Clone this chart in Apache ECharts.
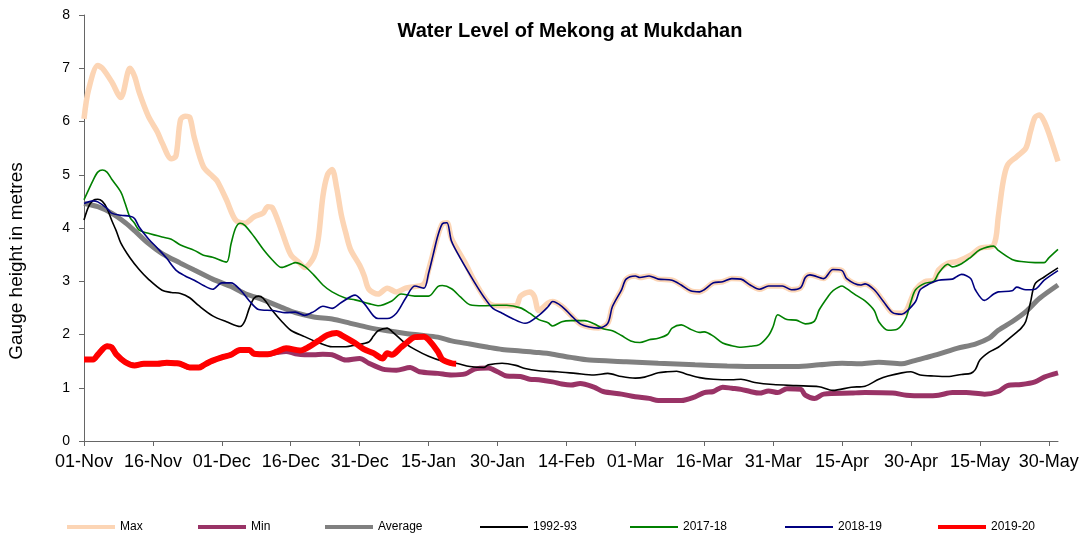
<!DOCTYPE html>
<html>
<head>
<meta charset="utf-8">
<title>Water Level of Mekong at Mukdahan</title>
<script src="https://cdn.jsdelivr.net/npm/echarts@6/dist/echarts.min.js"></script>
<style>
  html, body { margin: 0; padding: 0; background: #fff; }
  #chart { width: 1089px; height: 538px; }
</style>
</head>
<body>
<div id="chart"></div>
<script>
// x values are days counted from 01-Nov
const tickLabels = ['01-Nov', '16-Nov', '01-Dec', '16-Dec', '31-Dec', '15-Jan', '30-Jan', '14-Feb',
  '01-Mar', '16-Mar', '31-Mar', '15-Apr', '30-Apr', '15-May', '30-May'];
const seriesNames = ['Max', 'Min', 'Average', '1992-93', '2017-18', '2018-19', '2019-20'];

const maxLevel = [[0,6.05],[1,6.6],[3,7.05],[4,7.0],[6,6.75],[8,6.45],[10,7.0],[11,6.85],[12,6.55],[14,6.1],
  [16,5.8],[17,5.6],[19,5.3],[20,5.35],[21,6.03],[22,6.1],[23,6.08],[24,5.7],[26,5.15],[28,4.97],[29,4.88],
  [31,4.53],[33,4.15],[35,4.09],[37,4.21],[39,4.28],[40,4.4],[41,4.38],[43,3.95],[45,3.5],[47,3.34],[48,3.26],
  [50,3.45],[51,3.8],[52,4.6],[53,5.0],[54,5.1],[55,4.75],[56,4.25],[57,3.9],[58,3.6],[60,3.3],[61,3.1],
  [62,2.85],[64,2.76],[66,2.87],[68,2.8],[70,2.87],[72,2.9],[74,2.95],[75,3.21],[77,3.85],[78,4.08],[79,4.1],
  [80,3.8],[83,3.34],[85,3.0],[88,2.6],[90,2.54],[94,2.54],[95,2.72],[97,2.8],[98,2.72],[99,2.45],[101,2.59],
  [102,2.62],[104,2.53],[106,2.36],[108,2.2],[110,2.14],[112,2.12],[114,2.21],[115,2.52],[117,2.84],[118,3.04],
  [120,3.1],[121,3.07],[123,3.1],[125,3.04],[128,3.02],[130,2.93],[132,2.82],[134,2.8],[135,2.84],[137,2.97],
  [139,2.99],[141,3.05],[143,3.04],[145,2.93],[147,2.85],[149,2.91],[152,2.91],[154,2.84],[156,2.88],[157,3.07],
  [158,3.12],[161,3.05],[163,3.22],[165,3.2],[166,3.05],[169,2.93],[170,2.95],[172,2.84],[174,2.62],[176,2.41],
  [178,2.4],[179,2.45],[180,2.65],[181,2.84],[183,2.99],[185,3.02],[186,3.21],[188,3.34],[190,3.37],[193,3.49],
  [195,3.62],[198,3.68],[199,4.21],[200,4.84],[201,5.18],[203,5.34],[205,5.5],[206,5.81],[207,6.08],[208,6.12],
  [209,6.0],[210,5.78],[212,5.25]];

const minLevel = [[0,1.53],[2,1.53],[3,1.62],[5,1.78],[6,1.76],[7,1.63],[9,1.48],[11,1.42],[13,1.45],[16,1.45],
  [18,1.47],[20,1.46],[21,1.45],[23,1.38],[25,1.38],[26,1.42],[27,1.47],[28,1.51],[30,1.57],[32,1.62],[34,1.71],
  [36,1.71],[37,1.64],[40,1.63],[42,1.66],[44,1.68],[46,1.64],[48,1.62],[50,1.62],[52,1.63],[54,1.62],[57,1.52],
  [60,1.55],[62,1.46],[65,1.35],[68,1.33],[71,1.38],[73,1.3],[77,1.27],[80,1.24],[83,1.26],[85,1.35],[88,1.37],
  [90,1.3],[92,1.22],[95,1.21],[97,1.16],[99,1.15],[102,1.11],[104,1.07],[106,1.05],[108,1.08],[111,1.01],
  [113,0.93],[117,0.88],[120,0.83],[123,0.8],[125,0.76],[130,0.76],[133,0.83],[135,0.91],[137,0.93],[139,1.01],
  [141,0.99],[143,0.97],[145,0.93],[147,0.9],[149,0.94],[151,0.91],[153,0.98],[156,0.97],[157,0.86],[159,0.8],
  [161,0.88],[167,0.9],[170,0.91],[176,0.9],[179,0.86],[183,0.85],[186,0.86],[189,0.91],[192,0.91],[196,0.88],
  [199,0.93],[201,1.04],[204,1.06],[207,1.11],[209,1.2],[212,1.28]];

const avgLevel = [[0,4.46],[3,4.4],[6,4.28],[9,4.1],[11,3.95],[14,3.71],[17,3.52],[21,3.34],[24,3.21],[28,3.04],
  [32,2.9],[35,2.77],[39,2.65],[43,2.51],[46,2.41],[50,2.33],[54,2.29],[58,2.21],[62,2.13],[66,2.07],[70,2.02],
  [73,1.99],[77,1.95],[80,1.88],[84,1.82],[88,1.76],[91,1.72],[95,1.69],[99,1.66],[102,1.63],[106,1.57],
  [110,1.52],[118,1.49],[125,1.46],[133,1.43],[140,1.41],[147,1.4],[155,1.4],[160,1.43],[165,1.46],[169,1.45],
  [173,1.48],[178,1.45],[180,1.49],[183,1.56],[186,1.63],[190,1.74],[194,1.82],[197,1.93],[199,2.08],[202,2.24],
  [205,2.43],[208,2.68],[212,2.93]];

const level1992 = [[0,4.15],[1,4.4],[2,4.52],[3,4.54],[4,4.5],[5,4.37],[6,4.15],[7,3.95],[8,3.72],[10,3.44],
  [12,3.22],[14,3.04],[17,2.83],[19,2.79],[21,2.77],[23,2.69],[25,2.54],[28,2.35],[31,2.24],[34,2.15],[35,2.25],
  [36,2.5],[37,2.68],[38,2.72],[39,2.68],[41,2.45],[43,2.25],[45,2.08],[48,1.96],[51,1.85],[54,1.77],[57,1.77],
  [59,1.8],[62,1.86],[63,1.97],[64,2.07],[66,2.12],[67,2.06],[70,1.83],[72,1.72],[75,1.59],[78,1.5],[81,1.46],
  [84,1.4],[87,1.38],[88,1.43],[91,1.46],[94,1.42],[96,1.36],[99,1.32],[103,1.3],[107,1.27],[111,1.24],
  [114,1.27],[117,1.21],[120,1.18],[122,1.2],[125,1.28],[127,1.3],[129,1.31],[131,1.26],[134,1.19],[137,1.16],
  [141,1.15],[143,1.16],[146,1.1],[150,1.06],[155,1.04],[160,1.02],[163,0.95],[167,1.01],[170,1.03],[173,1.16],
  [175,1.22],[178,1.28],[180,1.3],[182,1.24],[185,1.22],[188,1.21],[191,1.25],[193,1.27],[194,1.34],[195,1.52],
  [197,1.67],[199,1.76],[202,1.97],[204,2.12],[205,2.25],[206,2.6],[207,2.95],[209,3.08],[212,3.25]];

const level2017 = [[0,4.53],[2,4.9],[3,5.05],[4,5.09],[5,5.05],[6,4.92],[8,4.68],[9,4.45],[10,4.2],[11,4.09],
  [12,3.96],[14,3.9],[17,3.83],[19,3.79],[21,3.68],[24,3.58],[26,3.49],[28,3.45],[31,3.36],[32,3.7],[33,4.0],
  [34,4.09],[35,4.05],[37,3.84],[39,3.6],[41,3.4],[43,3.26],[45,3.32],[46,3.35],[48,3.28],[50,3.12],[52,2.93],
  [54,2.8],[57,2.68],[59,2.65],[62,2.58],[64,2.54],[67,2.63],[69,2.76],[72,2.72],[75,2.72],[77,2.9],[78,2.92],
  [80,2.86],[82,2.7],[84,2.56],[87,2.54],[90,2.55],[92,2.55],[95,2.5],[97,2.4],[99,2.28],[101,2.22],[102,2.16],
  [104,2.24],[106,2.26],[109,2.26],[111,2.2],[113,2.11],[115,2.07],[117,1.98],[119,1.88],[121,1.85],[123,1.9],
  [125,1.93],[127,2.0],[128,2.12],[130,2.18],[132,2.1],[134,2.04],[135,2.05],[137,1.97],[139,1.84],[141,1.79],
  [143,1.76],[145,1.78],[147,1.81],[149,1.98],[150,2.15],[151,2.37],[153,2.28],[155,2.27],[157,2.2],[159,2.25],
  [160,2.46],[162,2.72],[163,2.82],[165,2.91],[166,2.86],[168,2.74],[170,2.63],[172,2.45],[173,2.24],[175,2.08],
  [177,2.1],[178,2.18],[179,2.33],[180,2.62],[181,2.84],[183,2.96],[185,3.0],[186,3.15],[188,3.32],[189,3.27],
  [191,3.33],[193,3.45],[195,3.59],[198,3.66],[199,3.58],[202,3.41],[204,3.37],[207,3.35],[209,3.35],[210,3.44],
  [212,3.6]];

const level2018 = [[0,4.46],[2,4.51],[3,4.49],[5,4.37],[6,4.28],[8,4.24],[10,4.22],[11,4.18],[12,4.02],[14,3.8],
  [16,3.62],[18,3.43],[20,3.21],[22,3.1],[24,3.02],[26,2.92],[28,2.85],[30,2.97],[32,2.97],[34,2.84],[36,2.63],
  [38,2.47],[41,2.45],[44,2.41],[46,2.42],[48,2.36],[50,2.43],[52,2.53],[54,2.49],[56,2.6],[59,2.74],[61,2.58],
  [63,2.35],[64,2.3],[66,2.3],[68,2.4],[70,2.68],[72,2.91],[74,2.87],[75,3.15],[76,3.5],[77,3.85],[78,4.08],
  [79,4.1],[80,3.75],[82,3.42],[85,2.98],[87,2.71],[89,2.49],[91,2.4],[93,2.31],[96,2.21],[99,2.36],[101,2.52],
  [102,2.62],[104,2.53],[106,2.36],[108,2.2],[110,2.14],[112,2.12],[114,2.21],[115,2.52],[117,2.84],[118,3.04],
  [120,3.1],[121,3.07],[123,3.1],[125,3.04],[128,3.02],[130,2.93],[132,2.82],[134,2.8],[135,2.84],[137,2.97],
  [139,2.99],[141,3.05],[143,3.04],[145,2.93],[147,2.85],[149,2.91],[152,2.91],[154,2.84],[156,2.88],[157,3.07],
  [158,3.12],[161,3.05],[163,3.22],[165,3.2],[166,3.05],[169,2.93],[170,2.95],[172,2.84],[174,2.62],[176,2.41],
  [178,2.38],[179,2.43],[181,2.62],[182,2.84],[184,2.95],[186,3.02],[189,3.04],[190,3.09],[191,3.13],[193,3.05],
  [194,2.84],[196,2.64],[198,2.76],[199,2.8],[202,2.82],[203,2.89],[205,2.84],[207,2.85],[209,3.02],[212,3.2]];

const level2019 = [[0,1.53],[2,1.53],[3,1.62],[5,1.78],[6,1.76],[7,1.63],[9,1.48],[11,1.42],[13,1.45],[16,1.45],
  [18,1.47],[20,1.46],[21,1.45],[23,1.38],[25,1.38],[26,1.42],[27,1.47],[28,1.51],[30,1.57],[32,1.62],[34,1.71],
  [36,1.71],[37,1.64],[40,1.63],[42,1.68],[44,1.74],[47,1.7],[49,1.77],[51,1.88],[53,1.99],[55,2.03],[56,1.99],
  [59,1.84],[61,1.72],[63,1.65],[65,1.55],[66,1.65],[67,1.62],[69,1.76],[70,1.83],[72,1.95],[74,1.96],[75,1.9],
  [77,1.68],[78,1.53],[80,1.46],[81,1.45]];

const seriesData = [maxLevel, minLevel, avgLevel, level1992, level2017, level2018, level2019];
const colors = ['#fcd5b5', '#993366', '#808080', '#000000', '#008000', '#000080', '#ff0000'];
const widths = [5.5, 5, 5, 1.6, 1.6, 1.6, 6];
const legendWidths = [4, 4, 4, 2, 2, 2, 4];
const legendLeft = [67, 198, 325, 480, 630, 785, 938];

const font = '"Liberation Sans", Arial, sans-serif';
const chart = echarts.init(document.getElementById('chart'));

chart.setOption({
  backgroundColor: '#fff',
  animation: false,
  title: {
    text: 'Water Level of Mekong at Mukdahan',
    left: 570,
    top: 21,
    padding: 0,
    textAlign: 'center',
    textStyle: { fontFamily: font, fontSize: 20, fontWeight: 'bold', color: '#000' }
  },
  legend: seriesNames.map((name, i) => ({
    data: [name],
    left: legendLeft[i],
    top: 521,
    padding: 0,
    icon: 'rect',
    itemWidth: 48,
    itemHeight: legendWidths[i],
    selectedMode: false,
    textStyle: { fontFamily: font, fontSize: 12, color: '#000' }
  })),
  grid: { left: 84, right: 31, top: 15, bottom: 97, outerBoundsMode: 'none' },
  graphic: [{
    type: 'text',
    x: 17,
    y: 261,
    rotation: Math.PI / 2,
    style: {
      text: 'Gauge height in metres',
      font: '19px ' + font,
      fill: '#000',
      align: 'center',
      verticalAlign: 'middle'
    }
  }],
  xAxis: {
    type: 'value',
    min: 0,
    max: 212,
    axisLine: { lineStyle: { color: '#666', width: 1 } },
    axisTick: { length: 5, lineStyle: { color: '#666' }, customValues: tickLabels.map((_, i) => i * 15) },
    axisLabel: {
      customValues: tickLabels.map((_, i) => i * 15),
      formatter: v => tickLabels[Math.round(v / 15)],
      fontFamily: font, fontSize: 18, color: '#000', margin: 12
    },
    splitLine: { show: false }
  },
  yAxis: {
    type: 'value',
    min: 0,
    max: 8,
    interval: 1,
    axisLine: { show: true, lineStyle: { color: '#666', width: 1 } },
    axisTick: { show: true, length: 5, lineStyle: { color: '#666' } },
    axisLabel: { fontFamily: font, fontSize: 14, color: '#000', margin: 14 },
    splitLine: { show: false }
  },
  series: seriesNames.map((name, i) => ({
    name: name,
    type: 'line',
    data: seriesData[i],
    symbol: 'none',
    smooth: 0.3,
    color: colors[i],
    lineStyle: { color: colors[i], width: widths[i] },
    z: 2 + i
  }))
});
</script>
</body>
</html>
